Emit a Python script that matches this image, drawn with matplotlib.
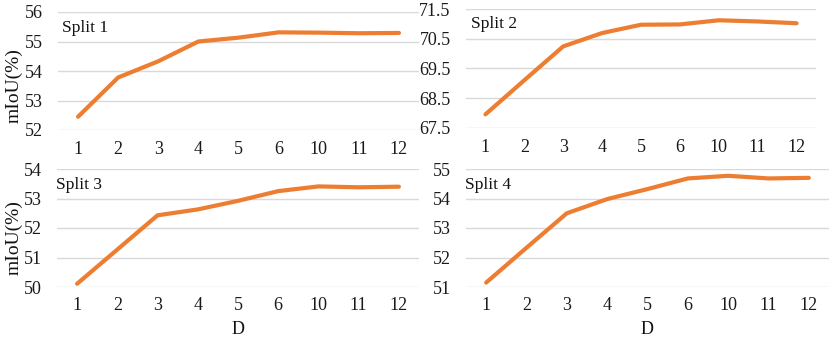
import matplotlib
matplotlib.use("Agg")
import matplotlib.pyplot as plt
import numpy as np

plt.rcParams['font.family'] = ['Liberation Serif', 'DejaVu Serif']

categories = ["1", "2", "3", "4", "5", "6", "10", "11", "12"]
split1 = [52.45, 53.78, 54.33, 55.0, 55.13, 55.31, 55.30, 55.28, 55.29]
split2 = [67.95, 69.1, 70.24, 70.69, 70.97, 70.98, 71.12, 71.08, 71.02]
split3 = [50.11, 51.27, 52.43, 52.63, 52.92, 53.25, 53.41, 53.38, 53.40]
split4 = [51.15, 52.33, 53.5, 53.98, 54.32, 54.68, 54.77, 54.68, 54.70]

titles = ["Split 1", "Split 2", "Split 3", "Split 4"]
ylims = [(52, 56), (67.5, 71.5), (50, 54), (51, 55)]
yticks = [np.arange(52, 56.1, 1), np.arange(67.5, 71.6, 1), np.arange(50, 54.1, 1), np.arange(51, 55.1, 1)]
yfmt = ["{:.0f}", "{:.1f}", "{:.0f}", "{:.0f}"]
data = [split1, split2, split3, split4]

W, H = 830, 339
fig = plt.figure(figsize=(W / 100, H / 100), dpi=100)

# axes boxes in pixels: left, top, right, bottom
boxes = [(58, 12, 419, 130), (466, 9, 816, 127.7), (57, 169, 419, 287), (466, 169, 829, 287)]
text_pos = [(0.011, 0.864), (0.014, 0.874), (-0.003, 0.864), (-0.003, 0.864)]
ylabel_y = [0.38, None, 0.42, None]

color = "#ED7D31"
x = np.arange(len(categories))
for i, (l, t, r, b) in enumerate(boxes):
    ax = fig.add_axes([l / W, (H - b) / H, (r - l) / W, (b - t) / H])
    ax.plot(x, data[i], color=color, lw=3.0, solid_capstyle='round', solid_joinstyle='round', zorder=3)
    ax.set_xlim(-0.5, len(categories) - 0.5)
    ax.set_ylim(*ylims[i])
    ax.set_yticks(yticks[i])
    ax.set_yticklabels([yfmt[i].format(v) for v in yticks[i]])
    ax.set_xticks(x)
    ax.set_xticklabels(categories)
    for s in ax.spines.values():
        s.set_visible(False)
    ax.grid(axis='y', color='#D9D9D9', lw=1.0, zorder=0)
    ax.tick_params(axis='both', length=0, labelsize=13, colors='#1a1a1a')
    ax.tick_params(axis='y', pad=11)
    ax.tick_params(axis='x', pad=8 if i < 2 else 7)
    ax.text(text_pos[i][0], text_pos[i][1], titles[i], transform=ax.transAxes,
            fontsize=12.5, ha='left', va='center', color='#111111')
    if i % 2 == 0:
        ax.set_ylabel("mIoU(%)", fontsize=14, color='#111111')
        ax.yaxis.set_label_coords((23 - l) / (r - l), ylabel_y[i])
    if i >= 2:
        ax.set_xlabel("D", fontsize=13, color='#111111', labelpad=5)

fig.savefig("out.png", dpi=100)
